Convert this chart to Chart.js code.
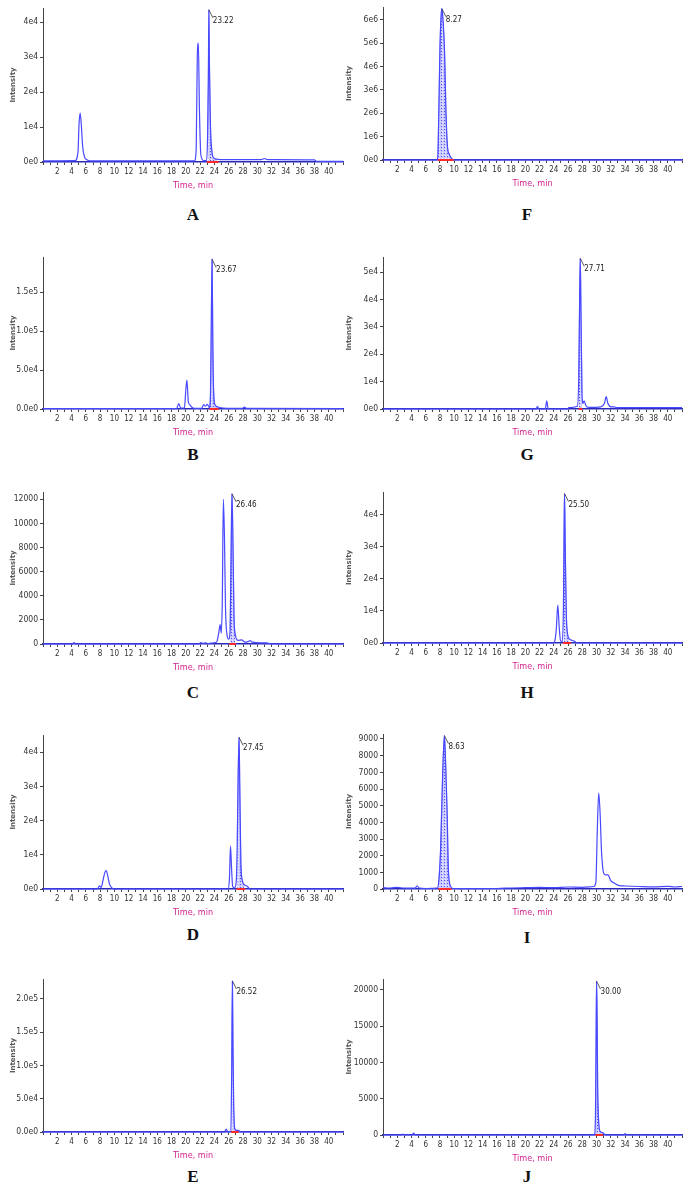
<!DOCTYPE html>
<html>
<head>
<meta charset="utf-8">
<script src="https://cdn.jsdelivr.net/npm/chart.js@4.4.1/dist/chart.umd.min.js"></script>
<style>
  body { margin: 0; background: #fff; }
  #page { position: relative; width: 690px; height: 1196px; overflow: hidden; background: #fff; }
  .cell { position: absolute; width: 345px; }
  .tag { position: absolute; font: bold 17px 'Liberation Serif', 'Times New Roman', serif; color: #111; transform: translate(-50%, -50%); }
</style>
</head>
<body>
<div id="page"></div>
<script>
// ---- chromatogram traces: retention time (min) and intensity ----
const timeA = [0, 4.5, 4.9, 5.05, 5.2, 5.35, 5.55, 5.8, 6.2, 6.8, 21.2, 21.45, 21.6, 21.75, 21.9, 22.1, 22.5, 22.9, 23.05, 23.15, 23.22, 23.3, 23.45, 23.65, 23.9, 24.3, 24.8, 30.6, 31.0, 31.4, 32.2, 38.0, 38.3, 42];
const intA  = [300, 400, 3000, 11000, 14000, 11000, 4500, 1500, 600, 300, 300, 4000, 30000, 34000, 15000, 2000, 400, 400, 8000, 24000, 43500, 28000, 10000, 3000, 1200, 800, 700, 700, 1000, 700, 700, 600, 200, 200];

const timeB = [0, 18.7, 19.0, 19.3, 19.8, 20.0, 20.15, 20.35, 20.6, 20.8, 21.2, 22.2, 22.5, 22.75, 23.0, 23.3, 23.45, 23.55, 23.67, 23.78, 23.9, 24.1, 24.5, 25.2, 27.9, 28.2, 28.5, 42];
const intB  = [500, 500, 7000, 1000, 1500, 25000, 37000, 9000, 5000, 2500, 800, 800, 5500, 3500, 6000, 2000, 20000, 100000, 192000, 80000, 20000, 5000, 2500, 1200, 800, 2500, 800, 500];

const timeC = [0, 4.1, 4.35, 4.6, 21.8, 22.1, 22.4, 22.8, 23.1, 23.5, 24.3, 24.6, 24.8, 24.95, 25.1, 25.25, 25.4, 25.55, 25.75, 26.0, 26.2, 26.35, 26.46, 26.6, 26.75, 26.95, 27.3, 27.8, 28.3, 28.7, 29.0, 29.3, 30.5, 31.3, 31.6, 32.0, 42];
const intC  = [0, 0, 120, 0, 0, 120, 60, 100, 30, 80, 150, 900, 1600, 900, 3500, 12000, 9000, 3000, 800, 400, 1200, 8500, 12450, 8200, 2000, 700, 300, 350, 150, 200, 280, 150, 100, 100, 50, 0, 0];

const timeD = [0, 7.6, 7.9, 8.15, 8.4, 8.65, 8.85, 9.05, 9.3, 9.6, 10.0, 25.9, 26.1, 26.25, 26.4, 26.55, 26.8, 27.05, 27.2, 27.32, 27.45, 27.55, 27.7, 27.9, 28.2, 28.6, 29.0, 42];
const intD  = [0, 0, 900, 500, 2500, 4800, 5400, 4000, 1500, 400, 0, 0, 3000, 12500, 6000, 800, 300, 2000, 14000, 33000, 44300, 30000, 8000, 2500, 1200, 800, 0, 0];

const timeE = [0, 25.4, 25.65, 25.9, 26.3, 26.42, 26.52, 26.6, 26.7, 26.85, 27.1, 27.4, 27.7, 42];
const intE  = [0, 0, 4500, 0, 1000, 95000, 227000, 125000, 40000, 5000, 2500, 2000, 0, 0];

const timeF = [0, 7.6, 7.72, 7.85, 8.0, 8.15, 8.27, 8.45, 8.65, 8.85, 9.05, 9.3, 9.6, 9.95, 42];
const intF  = [0, 0, 300000, 2200000, 4800000, 6100000, 6480000, 5900000, 4600000, 2000000, 600000, 250000, 80000, 0, 0];

const timeG = [0, 21.5, 21.7, 21.9, 22.8, 23.0, 23.2, 25.9, 26.1, 27.3, 27.5, 27.62, 27.71, 27.8, 27.95, 28.1, 28.25, 28.5, 28.9, 30.6, 31.1, 31.35, 31.6, 32.0, 32.5, 32.8, 33.8, 42];
const intG  = [0, 0, 1000, 0, 0, 3000, 0, 0, 500, 1000, 12000, 40000, 55000, 38000, 6000, 2000, 3000, 1200, 600, 800, 2000, 4500, 2000, 800, 800, 500, 500, 500];

const timeH = [0, 23.9, 24.15, 24.35, 24.55, 24.75, 24.95, 25.2, 25.35, 25.45, 25.5, 25.6, 25.75, 25.95, 26.2, 26.6, 27.0, 27.2, 42];
const intH  = [0, 0, 800, 4500, 11800, 5000, 600, 500, 12000, 38000, 46500, 30000, 9000, 2500, 1200, 800, 400, 0, 0];

const timeI = [0, 1.0, 2.0, 3.0, 4.5, 4.8, 5.1, 6.0, 7.6, 7.8, 8.1, 8.4, 8.63, 8.8, 9.0, 9.2, 9.5, 9.8, 12, 16, 18, 20, 22, 24, 26, 28, 29.6, 29.9, 30.1, 30.3, 30.5, 30.7, 31.0, 31.3, 31.6, 32.0, 32.5, 33.2, 34, 36, 38, 40, 41, 42];
const intI  = [80, 60, 100, 50, 50, 180, 60, 30, 50, 300, 2500, 7200, 9200, 7500, 4700, 1000, 150, 30, 20, 30, 60, 80, 100, 80, 120, 100, 150, 400, 3500, 5750, 4500, 2200, 950, 850, 850, 500, 350, 200, 180, 150, 130, 160, 120, 150];

const timeJ = [0, 2.6, 2.8, 3.0, 4.1, 4.3, 4.5, 29.7, 29.85, 29.93, 30.0, 30.07, 30.15, 30.3, 30.5, 30.9, 31.2, 33.8, 34.0, 34.2, 42];
const intJ  = [0, 0, 120, 0, 0, 250, 0, 0, 3000, 13000, 21200, 17000, 7000, 1800, 500, 300, 0, 0, 200, 0, 0];

const panelLetters = ['A', 'B', 'C', 'D', 'E', 'F', 'G', 'H', 'I', 'J'];
const peakRT    = [23.22, 23.67, 26.46, 27.45, 26.52, 8.27, 27.71, 25.50, 8.63, 30.00];
const integFrom = [22.95, 23.3, 26.1, 27.1, 26.35, 7.72, 27.5, 25.3, 7.8, 29.85];
const integTo   = [24.6, 24.6, 27.0, 28.3, 27.4, 9.95, 28.0, 26.4, 9.6, 30.9];
const yMax      = [44000, 195000, 12600, 45000, 230000, 6550000, 55500, 47000, 9300, 21500];
const yStep     = [10000, 50000, 2000, 10000, 50000, 1000000, 10000, 10000, 1000, 5000];
const yStyle    = ['exp0', 'exp1', 'plain', 'exp0', 'exp1', 'exp0', 'exp0', 'exp0', 'plain', 'plain'];

const times  = [timeA, timeB, timeC, timeD, timeE, timeF, timeG, timeH, timeI, timeJ];
const values = [intA, intB, intC, intD, intE, intF, intG, intH, intI, intJ];

// ---- page layout (pixels) ----
const plotTop    = [8, 257, 492, 735, 979, 7, 257, 492, 734, 979];
const plotBottom = [162, 409, 644, 889, 1132, 160, 409, 643, 889, 1135];
const tagY       = [215, 455, 693, 935, 1177, 215, 455, 693, 938, 1177];
const tagX       = [193, 527];
const PAD_TOP = 10;
const X_AXIS_H = 32;

const NARROW = "'Liberation Sans Narrow', 'DejaVu Sans Condensed', 'Arial Narrow', sans-serif";

function fmtTick(v, kind) {
    if (kind === 'plain') return String(v);
    return v.toExponential(kind === 'exp1' ? 1 : 0).replace('+', '');
}

function makeHatch(ctx) {
    const c = document.createElement('canvas');
    c.width = 3; c.height = 3;
    const g = c.getContext('2d');
    g.fillStyle = 'rgba(160,160,255,0.55)';
    g.fillRect(0, 0, 3, 3);
    g.fillStyle = 'rgba(70,70,240,0.9)';
    g.fillRect(0, 0, 1, 1);
    g.fillStyle = 'rgba(255,255,255,0.7)';
    g.fillRect(1, 2, 1, 1);
    return ctx.createPattern(c, 'repeat');
}

// retention time tag with a short leader line
const peakTag = {
    id: 'peakTag',
    afterDatasetsDraw(chart, args, opts) {
        const { ctx, scales: { x, y } } = chart;
        const px = x.getPixelForValue(opts.rt);
        const py = y.getPixelForValue(opts.apex);
        ctx.save();
        ctx.strokeStyle = '#333';
        ctx.lineWidth = 0.8;
        ctx.beginPath();
        ctx.moveTo(px, py);
        ctx.lineTo(px + 4, py + 8);
        ctx.stroke();
        ctx.fillStyle = '#222';
        ctx.font = '8px ' + NARROW;
        ctx.textBaseline = 'top';
        ctx.fillText(opts.text, px + 4, py + 7);
        ctx.restore();
    }
};

const page = document.getElementById('page');

function drawPanel(i) {
    const col = i < 5 ? 0 : 1;
    const t = times[i], v = values[i];
    const pts = t.map((x, k) => ({ x: x, y: v[k] }));
    const area = pts.filter(p => p.x >= integFrom[i] && p.x <= integTo[i]);
    const apex = v[t.indexOf(peakRT[i])];

    // major y ticks: multiples of the step up to the axis top
    const yTicks = [];
    for (let val = 0; val <= yMax[i]; val += yStep[i]) yTicks.push(val);

    const cell = document.createElement('div');
    cell.className = 'cell';
    cell.style.left = (col * 345) + 'px';
    cell.style.top = (plotTop[i] - PAD_TOP) + 'px';
    const cv = document.createElement('canvas');
    cv.width = 345;
    cv.height = plotBottom[i] - plotTop[i] + PAD_TOP + X_AXIS_H;
    cell.appendChild(cv);
    page.appendChild(cell);

    const tag = document.createElement('div');
    tag.className = 'tag';
    tag.textContent = panelLetters[i];
    tag.style.left = tagX[col] + 'px';
    tag.style.top = tagY[i] + 'px';
    page.appendChild(tag);

    const ctx = cv.getContext('2d');
    new Chart(ctx, {
        type: 'line',
        data: {
            datasets: [
                {
                    data: area,
                    fill: 'origin',
                    backgroundColor: makeHatch(ctx),
                    borderColor: 'rgba(110,110,255,0.7)',
                    borderWidth: 0.8,
                    pointRadius: 0,
                    cubicInterpolationMode: 'monotone',
                    order: 3
                },
                {
                    data: pts,
                    fill: false,
                    borderColor: '#4848ff',
                    borderWidth: 1.2,
                    pointRadius: 0,
                    cubicInterpolationMode: 'monotone',
                    clip: false,
                    order: 2
                },
                {
                    data: [{ x: integFrom[i], y: 0 }, { x: integTo[i], y: 0 }],
                    fill: false,
                    borderColor: '#ff2a2a',
                    borderWidth: 2,
                    pointRadius: 0,
                    clip: false,
                    order: 1
                }
            ]
        },
        options: {
            responsive: false,
            animation: false,
            events: [],
            layout: { padding: { top: PAD_TOP, right: col ? 8 : 2, left: 0, bottom: 0 } },
            plugins: {
                legend: { display: false },
                tooltip: { enabled: false },
                peakTag: { rt: peakRT[i], apex: apex, text: peakRT[i].toFixed(2) }
            },
            scales: {
                x: {
                    type: 'linear',
                    min: 0,
                    max: 42,
                    afterFit: s => { s.height = X_AXIS_H; },
                    border: { color: '#2a2ab8', width: 1.5 },
                    grid: { drawOnChartArea: false, tickLength: 3, tickColor: '#444' },
                    ticks: {
                        stepSize: 1,
                        autoSkip: false,
                        maxRotation: 0,
                        padding: 2,
                        color: '#333',
                        font: { family: NARROW, size: 8 },
                        callback: val => (val % 2 === 0 && val > 0 && val < 42) ? String(val) : ''
                    },
                    title: {
                        display: true,
                        text: 'Time, min',
                        color: '#d4238f',
                        font: { family: NARROW, size: 9 },
                        padding: { top: 0, bottom: 3 }
                    }
                },
                y: {
                    min: 0,
                    max: yMax[i],
                    afterFit: s => { s.width = col ? 38 : 43; },
                    afterBuildTicks: s => { s.ticks = yTicks.map(val => ({ value: val })); },
                    border: { color: '#444', width: 1 },
                    grid: { drawOnChartArea: false, tickLength: 3, tickColor: '#444' },
                    ticks: {
                        padding: 2,
                        color: '#333',
                        font: { family: NARROW, size: 8.5 },
                        callback: val => fmtTick(val, yStyle[i])
                    },
                    title: {
                        display: true,
                        text: 'Intensity',
                        color: '#555',
                        font: { family: "'DejaVu Sans', sans-serif", size: 7, weight: 'bold' },
                        padding: { top: col ? 0 : 9, bottom: 0 }
                    }
                }
            }
        },
        plugins: [peakTag]
    });
}

for (let i = 0; i < 10; i++) drawPanel(i);
</script>
</body>
</html>
